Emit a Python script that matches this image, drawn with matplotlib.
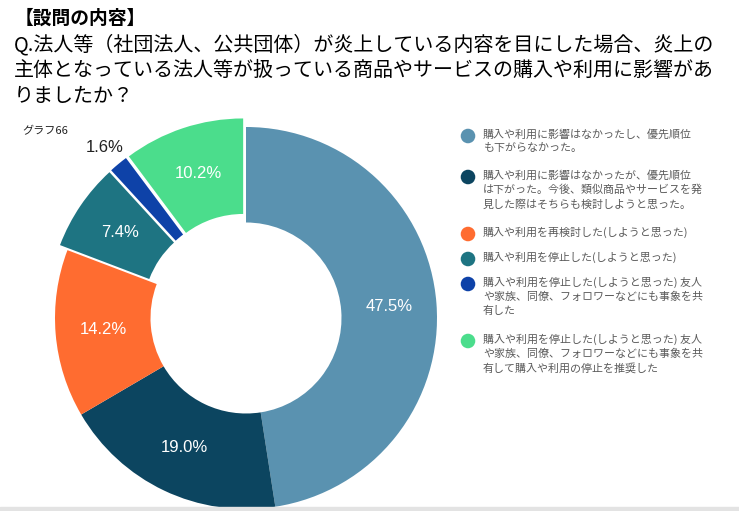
import math
import matplotlib.pyplot as plt
from matplotlib.patches import Rectangle

plt.rcParams['font.family'] = ['Noto Sans CJK JP', 'DejaVu Sans']

heading = '【設問の内容】'
question = ['Q.法人等（社団法人、公共団体）が炎上している内容を目にした場合、炎上の',
            '主体となっている法人等が扱っている商品やサービスの購入や利用に影響があ',
            'りましたか？']
chart_name = 'グラフ66'

categories = [
    '購入や利用に影響はなかったし、優先順位\nも下がらなかった。',
    '購入や利用に影響はなかったが、優先順位\nは下がった。今後、類似商品やサービスを発\n見した際はそちらも検討しようと思った。',
    '購入や利用を再検討した(しようと思った)',
    '購入や利用を停止した(しようと思った)',
    '購入や利用を停止した(しようと思った) 友人\nや家族、同僚、フォロワーなどにも事象を共\n有した',
    '購入や利用を停止した(しようと思った) 友人\nや家族、同僚、フォロワーなどにも事象を共\n有して購入や利用の停止を推奨した',
]
values = [47.5, 19.0, 14.2, 7.4, 1.6, 10.2]
colors = ['#5a92b0', '#0c4560', '#ff6c30', '#1e7482', '#0e42a8', '#4bdd8c']
explode = [0, 0, 0, 9, 9, 9]

W, H = 739, 511
fig = plt.figure(figsize=(W / 100, H / 100), dpi=100)
ax = fig.add_axes([0, 0, 1, 1])

cx, cy, R = 246, H - 318, 191
wedges, texts, autotexts = ax.pie(
    values, colors=colors, explode=explode, center=(cx, cy), radius=R,
    startangle=90, counterclock=False, autopct='%.1f%%', pctdistance=0.75,
    wedgeprops=dict(width=R * 0.5, linewidth=0), frame=True,
    textprops=dict(color='white', fontsize=12, family=['Liberation Sans']))
ax.set_xlim(0, W)
ax.set_ylim(0, H)
ax.set_aspect('equal')
ax.axis('off')

# small slice label goes outside the ring
small = values.index(min(values))
w = wedges[small]
th = math.radians((w.theta1 + w.theta2) / 2)
autotexts[small].set_position((cx + 1.16 * R * math.cos(th),
                               cy + 1.16 * R * math.sin(th)))
autotexts[small].set_color('#222222')

# titles
ax.text(15, H - 18, heading, fontsize=13.5, fontweight='bold', va='center', ha='left')
for i, line in enumerate(question):
    ax.text(14, H - 45 - i * 25.5, line, fontsize=14.4, va='center', ha='left')
ax.text(22, H - 131, chart_name, fontsize=8, va='center', ha='left', color='#222222')

# legend
y = H - 136
for lab, col in zip(categories, colors):
    n = lab.count('\n') + 1
    ax.scatter([468], [y], s=110, color=col, edgecolors='none')
    ax.text(483, y + 7, lab, fontsize=7.9, va='top', ha='left', color='#5a5a5a',
            linespacing=1.45)
    y -= n * 16 + 9

fig.patches.append(Rectangle((0, 0), 1, 4 / H, transform=fig.transFigure,
                             color='#e3e3e3', zorder=0))
fig.savefig('out.png', dpi=100)
